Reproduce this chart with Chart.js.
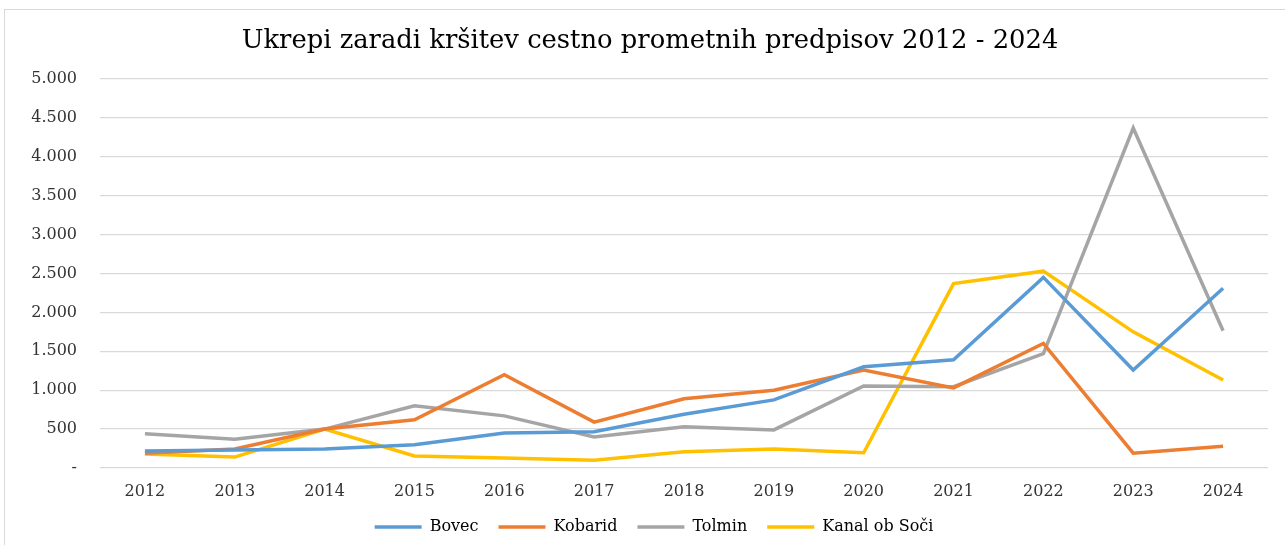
<!DOCTYPE html>
<html><head><meta charset="utf-8">
<script src="https://cdn.jsdelivr.net/npm/chart.js@4"></script>
<style>
html,body{margin:0;padding:0;background:#fff;}
#frame{position:absolute;left:4px;top:9px;width:1300px;height:560px;border:1px solid #d9d9d9;box-sizing:border-box;}
#wrap{position:absolute;left:0;top:0;width:1285px;height:545px;}
</style></head><body>
<div id="frame"></div>
<div id="wrap"><canvas id="c" width="1285" height="545"></canvas></div>
<script>
const years = ['2012','2013','2014','2015','2016','2017','2018','2019','2020','2021','2022','2023','2024'];
const bovec   = [220, 230, 245, 300, 450, 465, 690, 875, 1300, 1390, 2450, 1260, 2310];
const kobarid = [190, 245, 500, 620, 1200, 590, 890, 1000, 1260, 1030, 1600, 190, 280];
const tolmin  = [440, 370, 500, 800, 670, 400, 530, 490, 1055, 1045, 1470, 4370, 1765];
const kanal   = [180, 140, 500, 155, 130, 100, 210, 245, 195, 2370, 2530, 1750, 1130];
const seriesNames = ['Bovec','Kobarid','Tolmin','Kanal ob Soči'];
const seriesColors = ['#5b9bd5','#ed7d31','#a5a5a5','#ffc000'];
const seriesData = [bovec, kobarid, tolmin, kanal];

const fontFam = "'DejaVu Serif', 'Liberation Serif', serif";
const shiftBlocks = {
  id: 'shiftBlocks',
  afterLayout(chart) {
    const t = chart.titleBlock;
    if (t) { t.left += 16; t.right += 16; }
    const l = chart.legend;
    if (l) { l.left += 20; l.right += 20; }
  }
};
new Chart(document.getElementById('c'), {
  type: 'line',
  data: {
    labels: years,
    datasets: seriesData.map((d,i)=>({
      label: seriesNames[i], data: d,
      borderColor: seriesColors[i], backgroundColor: seriesColors[i],
      borderWidth: 3.5, pointRadius: 0, tension: 0, fill: false
    }))
  },
  plugins: [shiftBlocks],
  options: {
    responsive: false, animation: false,
    layout: {padding: {left: 0, right: 17, top: 0, bottom: 0}},
    plugins: {
      title: {display: true, text: 'Ukrepi zaradi kršitev cestno prometnih predpisov 2012 - 2024',
        color: '#000', font: {family: fontFam, size: 25.8, weight: 'normal', lineHeight: 1.2}, padding: {top: 26, bottom: 22}},
      legend: {position: 'bottom', labels: {usePointStyle: true, pointStyle: 'line', pointStyleWidth: 47,
        color: '#000', font: {family: fontFam, size: 16}, padding: 20}},
      tooltip: {enabled: false}
    },
    scales: {
      x: {offset: true, grid: {display: false, drawTicks: false}, border: {display: false},
        afterFit: s => { s.height = 31; },
        ticks: {color: '#333', font: {family: fontFam, size: 16}, padding: 14, maxRotation: 0}},
      y: {min: 0, max: 5000,
        afterFit: s => { s.width = 100; },
        grid: {color: '#d9d9d9', lineWidth: 1.3, drawTicks: false},
        border: {display: false},
        ticks: {stepSize: 500, color: '#333', font: {family: fontFam, size: 16}, padding: 23,
          callback: v => v === 0 ? '-' : v.toLocaleString('de-DE')}}
    }
  }
});
</script>
</body></html>
